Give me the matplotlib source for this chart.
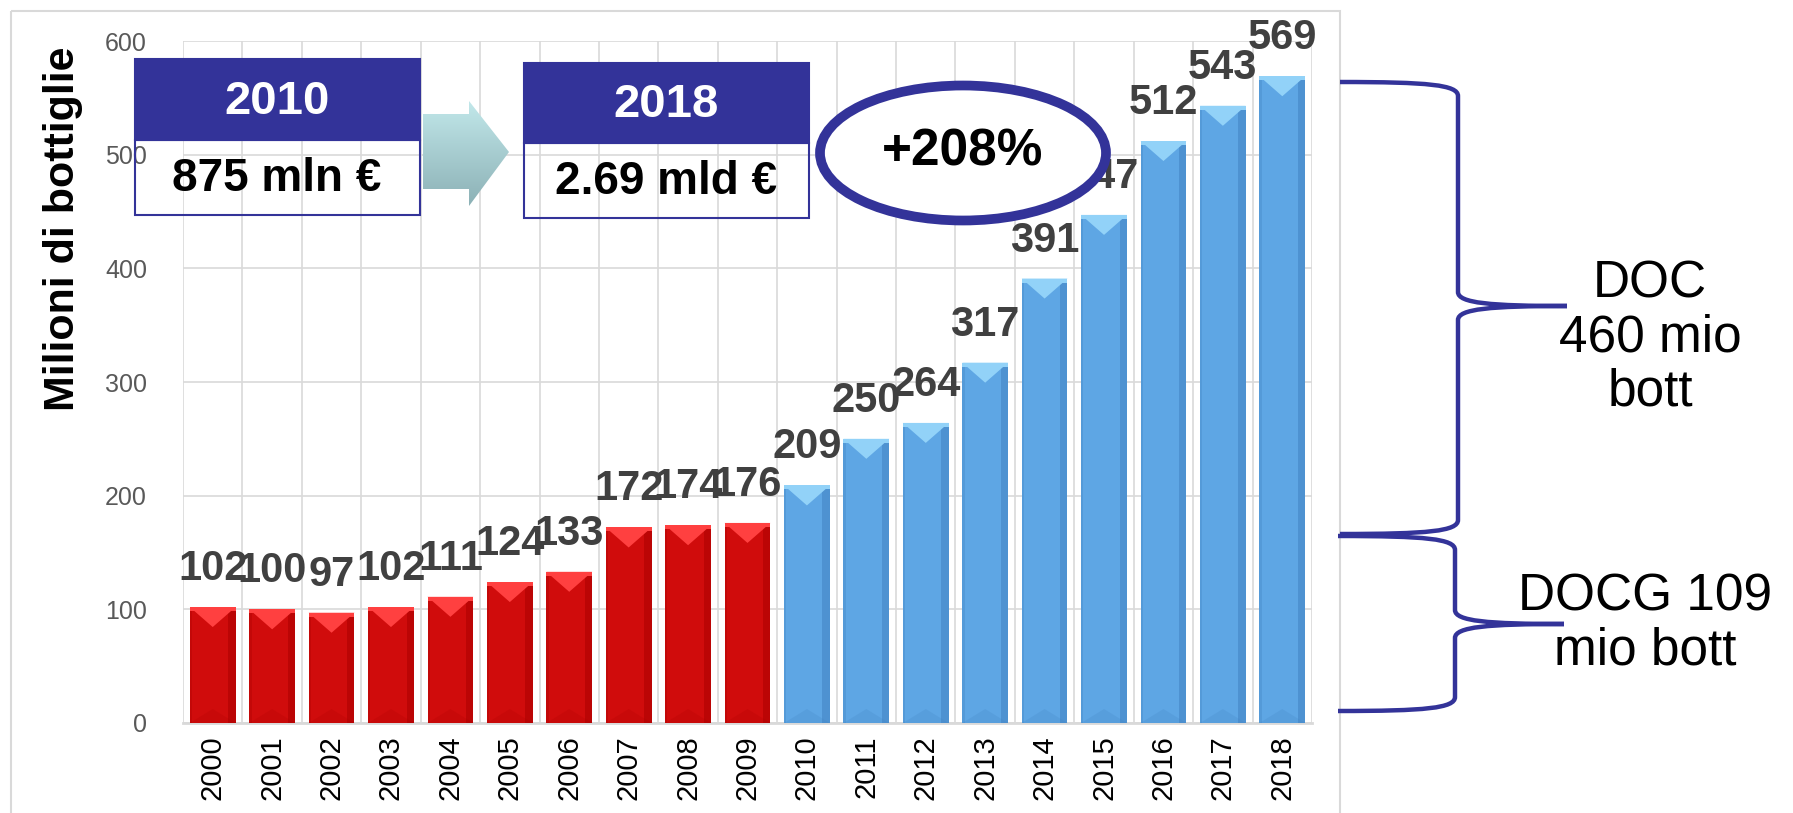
import numpy as np
import matplotlib
matplotlib.use("Agg")
import matplotlib.pyplot as plt
from matplotlib.patches import Rectangle, Polygon, Ellipse, PathPatch
from matplotlib.path import Path
from matplotlib.colors import LinearSegmentedColormap

# data
years = [str(y) for y in range(2000, 2019)]
bottles = [102, 100, 97, 102, 111, 124, 133, 172, 174, 176,
           209, 250, 264, 317, 391, 447, 512, 543, 569]
n_red = 10  # 2000-2009 red, 2010-2018 blue
yticks = [0, 100, 200, 300, 400, 500, 600]

box_years = ["2010", "2018"]
box_values = ["875 mln €", "2.69 mld €"]
growth = "+208%"
doc_text = "DOC\n460 mio\nbott"
docg_text = "DOCG 109\nmio bott"
ylab = "Milioni di bottiglie"

W, H = 1793, 813
fig = plt.figure(figsize=(W / 100, H / 100), dpi=100)
ax = fig.add_axes([183 / W, 1 - 723 / H, (1312 - 183) / W, (723 - 41) / H])

navy = "#333399"
red, red_dark, red_light = "#D00C0C", "#A80000", "#FF4040"
blue, blue_dark, blue_light = "#5EA6E4", "#3F7FBF", "#92D2F8"

x = np.arange(len(years))
cols = [red] * n_red + [blue] * (len(years) - n_red)
bars = ax.bar(x, bottles, width=0.77, color=cols, edgecolor="none", zorder=3)

# fake bevel on every bar
px = 600 / (723 - 41)  # data units per pixel
for i, b in enumerate(bars):
    bx, bw, bh = b.get_x(), b.get_width(), b.get_height()
    dark = red_dark if i < n_red else blue_dark
    light = red_light if i < n_red else blue_light
    ax.add_patch(Rectangle((bx + bw * 0.84, 0), bw * 0.16, bh, color=dark, alpha=0.5, lw=0, zorder=4))
    ax.add_patch(Rectangle((bx, 0), bw * 0.05, bh, color=dark, alpha=0.3, lw=0, zorder=4))
    ax.add_patch(Polygon([(bx, bh), (bx + bw, bh), (bx + bw / 2, bh - 20 * px)],
                         closed=True, color=light, lw=0, zorder=5))
    ax.add_patch(Rectangle((bx, bh - 4 * px), bw, 4 * px, color=light, lw=0, zorder=5))
    ax.add_patch(Polygon([(bx, 0), (bx + bw, 0), (bx + bw / 2, 14 * px)],
                         closed=True, color=dark, alpha=0.2, lw=0, zorder=5))
    ax.annotate(str(bottles[i]), (x[i], bh), xytext=(0, 13), textcoords="offset points",
                ha="center", va="bottom", fontsize=30, fontweight="bold",
                color="#404040", family="Liberation Sans", zorder=6)

ax.set_xlim(-0.5, len(years) - 0.5)
ax.set_ylim(0, 600)
ax.set_yticks(yticks)
ax.set_xticks(x)
ax.set_xticklabels(years, rotation=90, fontsize=21, family="Liberation Sans")
ax.set_xticks(np.arange(-0.5, len(years), 1), minor=True)
ax.tick_params(axis="x", which="both", length=0, pad=9)
ax.tick_params(axis="y", length=0, pad=26, labelsize=18, labelcolor="#595959")
for lab in ax.get_yticklabels():
    lab.set_family(["Liberation Sans Narrow", "Liberation Sans"])
ax.grid(axis="y", color="#D9D9D9", lw=1.2, zorder=0)
ax.grid(axis="x", which="minor", color="#D9D9D9", lw=1.2, zorder=0)
ax.grid(axis="x", which="major", visible=False)
for s in ["top", "right", "left"]:
    ax.spines[s].set_visible(False)
ax.spines["bottom"].set_color("#D9D9D9")
ax.spines["bottom"].set_linewidth(2)

# overlay in pixel coordinates for the annotations
ov = fig.add_axes([0, 0, 1, 1], zorder=10)
ov.set_xlim(0, W)
ov.set_ylim(H, 0)
ov.axis("off")
ov.patch.set_alpha(0)

ov.add_patch(Rectangle((11, 11), 1329, 820, fill=False, ec="#D9D9D9", lw=1.5))

ov.text(63, 229, ylab, rotation=90, ha="center", va="center", fontsize=31,
        fontweight="bold", family="Liberation Sans")

# year boxes
for (bx, by, split), yr, val in zip([(135, 59, 140), (524, 63, 143)], box_years, box_values):
    ov.add_patch(Rectangle((bx, by), 285, split - by, fc=navy, ec=navy, lw=1.5))
    ov.add_patch(Rectangle((bx, split), 285, 75, fill=False, ec=navy, lw=1.5))
    ov.text(bx + 142, (by + split) / 2 + 2, yr, ha="center", va="center", color="white",
            fontsize=34, fontweight="bold", family="Liberation Sans")
    ov.text(bx + 142, split + 39, val, ha="center", va="center", color="black",
            fontsize=33, fontweight="bold", family="Liberation Sans")

# gradient arrow
arrow = Polygon([(423, 114), (469, 114), (469, 101), (509, 152), (469, 206),
                 (469, 189), (423, 189)], closed=True, fc="none", ec="none")
ov.add_patch(arrow)
grad = np.linspace(0, 1, 100).reshape(-1, 1)
cmap = LinearSegmentedColormap.from_list("aq", ["#C2E8EA", "#8CB1B6"])
im = ov.imshow(grad, cmap=cmap, extent=[423, 509, 206, 101], aspect="auto", zorder=2)
im.set_clip_path(arrow)
ov.set_xlim(0, W)
ov.set_ylim(H, 0)

# growth ellipse
ov.add_patch(Ellipse((963, 153), 286, 135, fc="white", ec=navy, lw=7, zorder=3))
ov.text(963, 152, growth, ha="center", va="center", fontsize=37, fontweight="bold",
        family="Liberation Sans", zorder=4)


def brace(x0, xv, xt, ytop, ymid, ybot, r):
    verts = [(x0, ytop), (x0 + (xv - x0) * 0.75, ytop), (xv, ytop + r * 0.2), (xv, ytop + r),
             (xv, ymid - r),
             (xv, ymid - r * 0.2), (xv + (xt - xv) * 0.3, ymid), (xt, ymid),
             (xv + (xt - xv) * 0.3, ymid), (xv, ymid + r * 0.2), (xv, ymid + r),
             (xv, ybot - r),
             (xv, ybot - r * 0.2), (x0 + (xv - x0) * 0.75, ybot), (x0, ybot)]
    codes = [Path.MOVETO, Path.CURVE4, Path.CURVE4, Path.CURVE4, Path.LINETO,
             Path.CURVE4, Path.CURVE4, Path.CURVE4, Path.CURVE4, Path.CURVE4, Path.CURVE4,
             Path.LINETO, Path.CURVE4, Path.CURVE4, Path.CURVE4]
    ov.add_patch(PathPatch(Path(verts, codes), fc="none", ec=navy, lw=3.2, zorder=3))


brace(1340, 1458, 1567, 82, 306, 534, 14)
brace(1338, 1455, 1564, 536, 624, 711, 14)

ov.text(1650, 338, doc_text, ha="center", va="center", fontsize=37, linespacing=1.12,
        family="Liberation Sans")
ov.text(1645, 624, docg_text, ha="center", va="center", fontsize=37, linespacing=1.12,
        family="Liberation Sans")

fig.savefig("out.png", dpi=100)
